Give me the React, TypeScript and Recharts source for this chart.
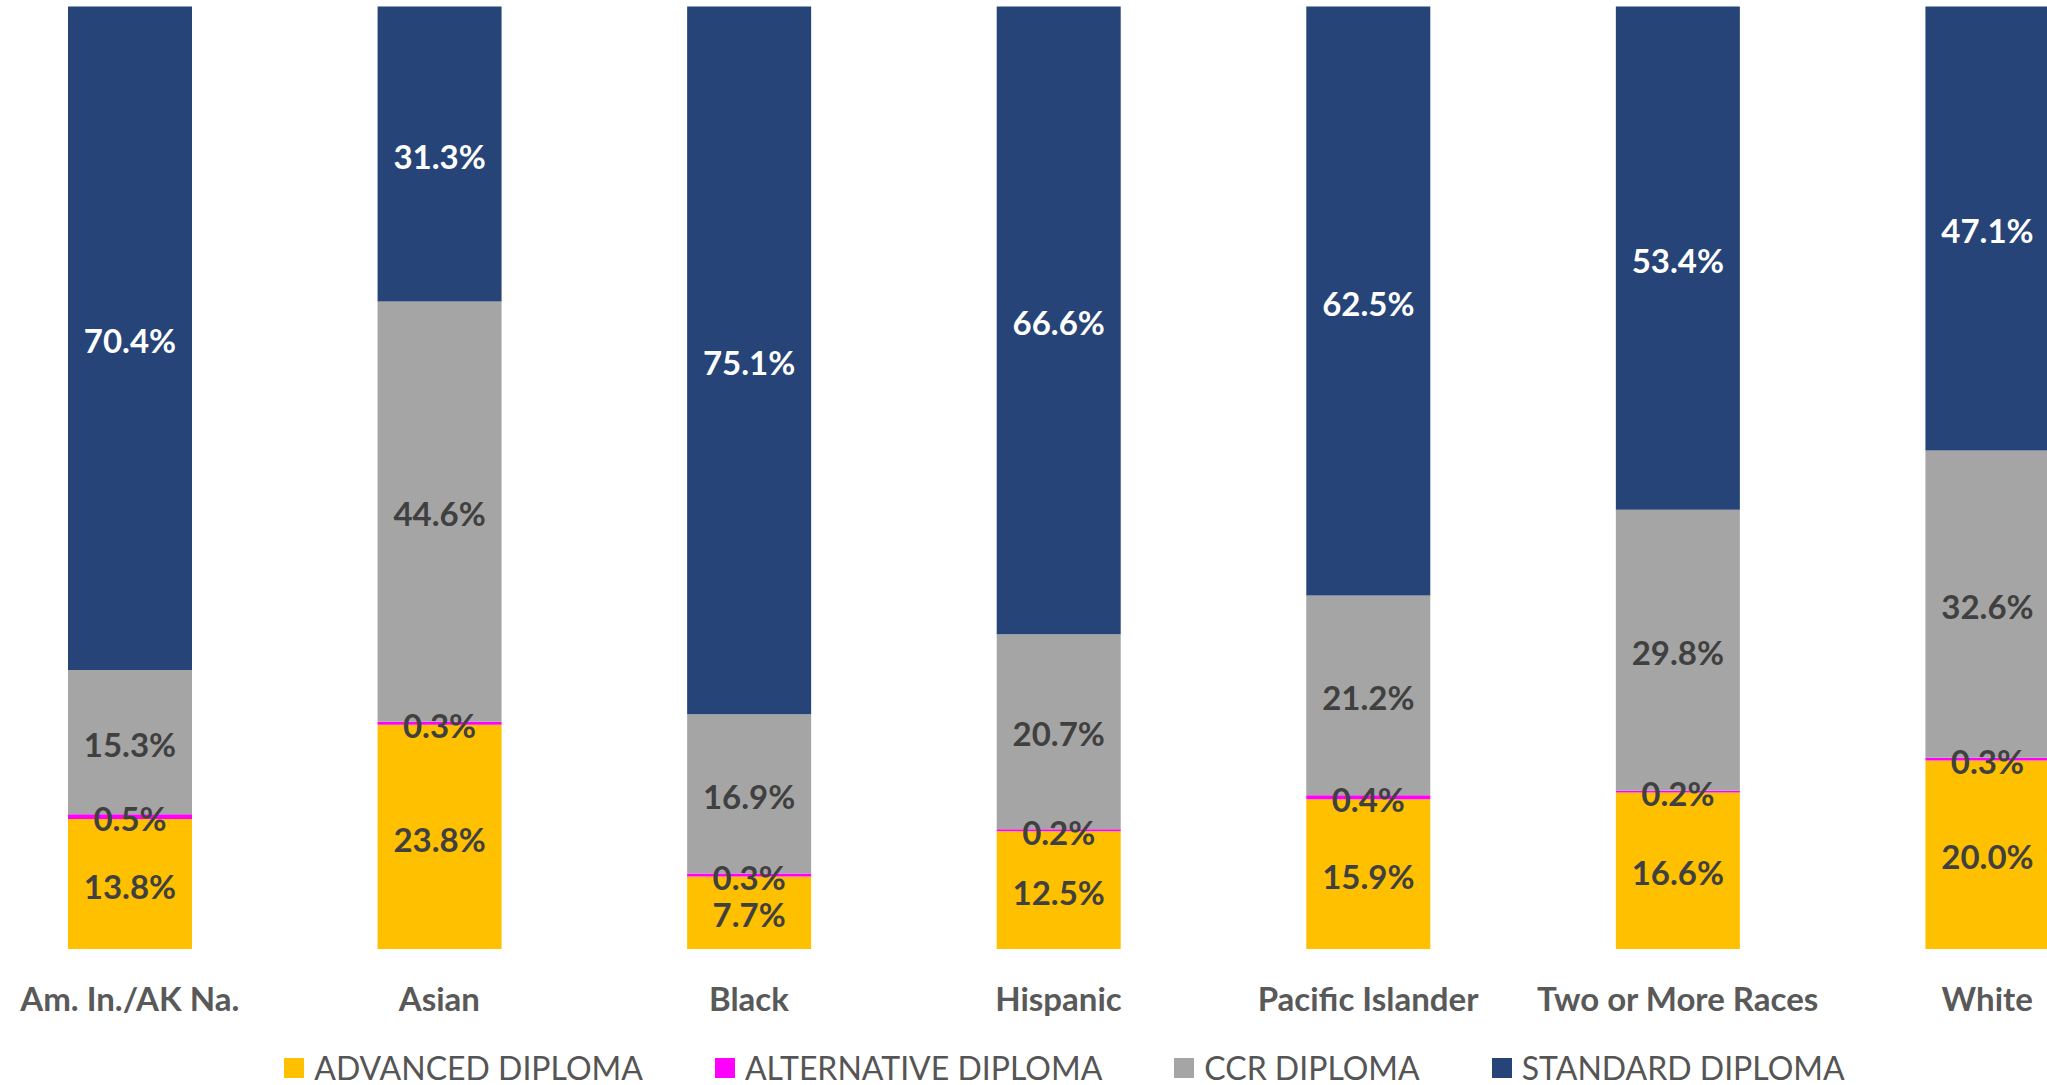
import { Bar, BarChart, LabelList, Legend, XAxis, YAxis } from 'recharts';

const groups = ['Am. In./AK Na.', 'Asian', 'Black', 'Hispanic', 'Pacific Islander', 'Two or More Races', 'White'];
const advanced = [13.8, 23.8, 7.7, 12.5, 15.9, 16.6, 20.0];
const alternative = [0.5, 0.3, 0.3, 0.2, 0.4, 0.2, 0.3];
const ccr = [15.3, 44.6, 16.9, 20.7, 21.2, 29.8, 32.6];
const standard = [70.4, 31.3, 75.1, 66.6, 62.5, 53.4, 47.1];

const series = [
  { key: 'advanced', name: 'ADVANCED DIPLOMA', color: '#FFC000', text: '#404040' },
  { key: 'alternative', name: 'ALTERNATIVE DIPLOMA', color: '#FF00FF', text: '#404040' },
  { key: 'ccr', name: 'CCR DIPLOMA', color: '#A5A5A5', text: '#404040' },
  { key: 'standard', name: 'STANDARD DIPLOMA', color: '#264478', text: '#FFFFFF' },
];

const data = groups.map((group, i) => ({
  group,
  advanced: advanced[i],
  alternative: alternative[i],
  ccr: ccr[i],
  standard: standard[i],
}));

const font = 'Lato, "Open Sans", sans-serif';
const pct = (v: unknown) => `${Number(v).toFixed(1)}%`;

function LegendBox() {
  return (
    <div
      style={{
        display: 'flex',
        justifyContent: 'center',
        height: 66,
        paddingTop: 32,
        paddingLeft: 12,
        boxSizing: 'border-box',
        fontFamily: font,
        fontSize: 32,
        lineHeight: '32px',
        color: '#555555',
        whiteSpace: 'nowrap',
      }}
    >
      {series.map((s, i) => (
        <div key={s.key} style={{ display: 'flex', alignItems: 'center', flexShrink: 0, marginLeft: i === 0 ? 0 : 72 }}>
          <span style={{ width: 20, height: 20, background: s.color, marginRight: 10, display: 'inline-block' }} />
          <span>{s.name}</span>
        </div>
      ))}
    </div>
  );
}

export default function App() {
  return (
    <div style={{ position: 'fixed', left: 0, top: 0, width: 2047, height: 1085, overflow: 'hidden', background: '#fff' }}>
      <div style={{ position: 'absolute', left: -25, top: 0 }}>
        <BarChart
          width={2167}
          height={1085}
          data={data}
          margin={{ top: 6.5, right: 0, left: 0, bottom: 0 }}
          barSize={124}
        >
          <XAxis
            dataKey="group"
            tickLine={false}
            axisLine={false}
            interval={0}
            height={70}
            tickMargin={33}
            tick={{ fill: '#595959', fontSize: 33, fontWeight: 700, fontFamily: font }}
          />
          <YAxis hide domain={[0, 100]} />
          <Legend verticalAlign="bottom" height={66} content={() => <LegendBox />} />
          {series.map((s) => (
            <Bar key={s.key} dataKey={s.key} name={s.name} stackId="a" fill={s.color} isAnimationActive={false}>
              <LabelList
                dataKey={s.key}
                position="center"
                formatter={pct}
                fill={s.text}
                dy={3}
                style={{ fontSize: 33, fontWeight: 700, fontFamily: font }}
              />
            </Bar>
          ))}
        </BarChart>
      </div>
    </div>
  );
}
